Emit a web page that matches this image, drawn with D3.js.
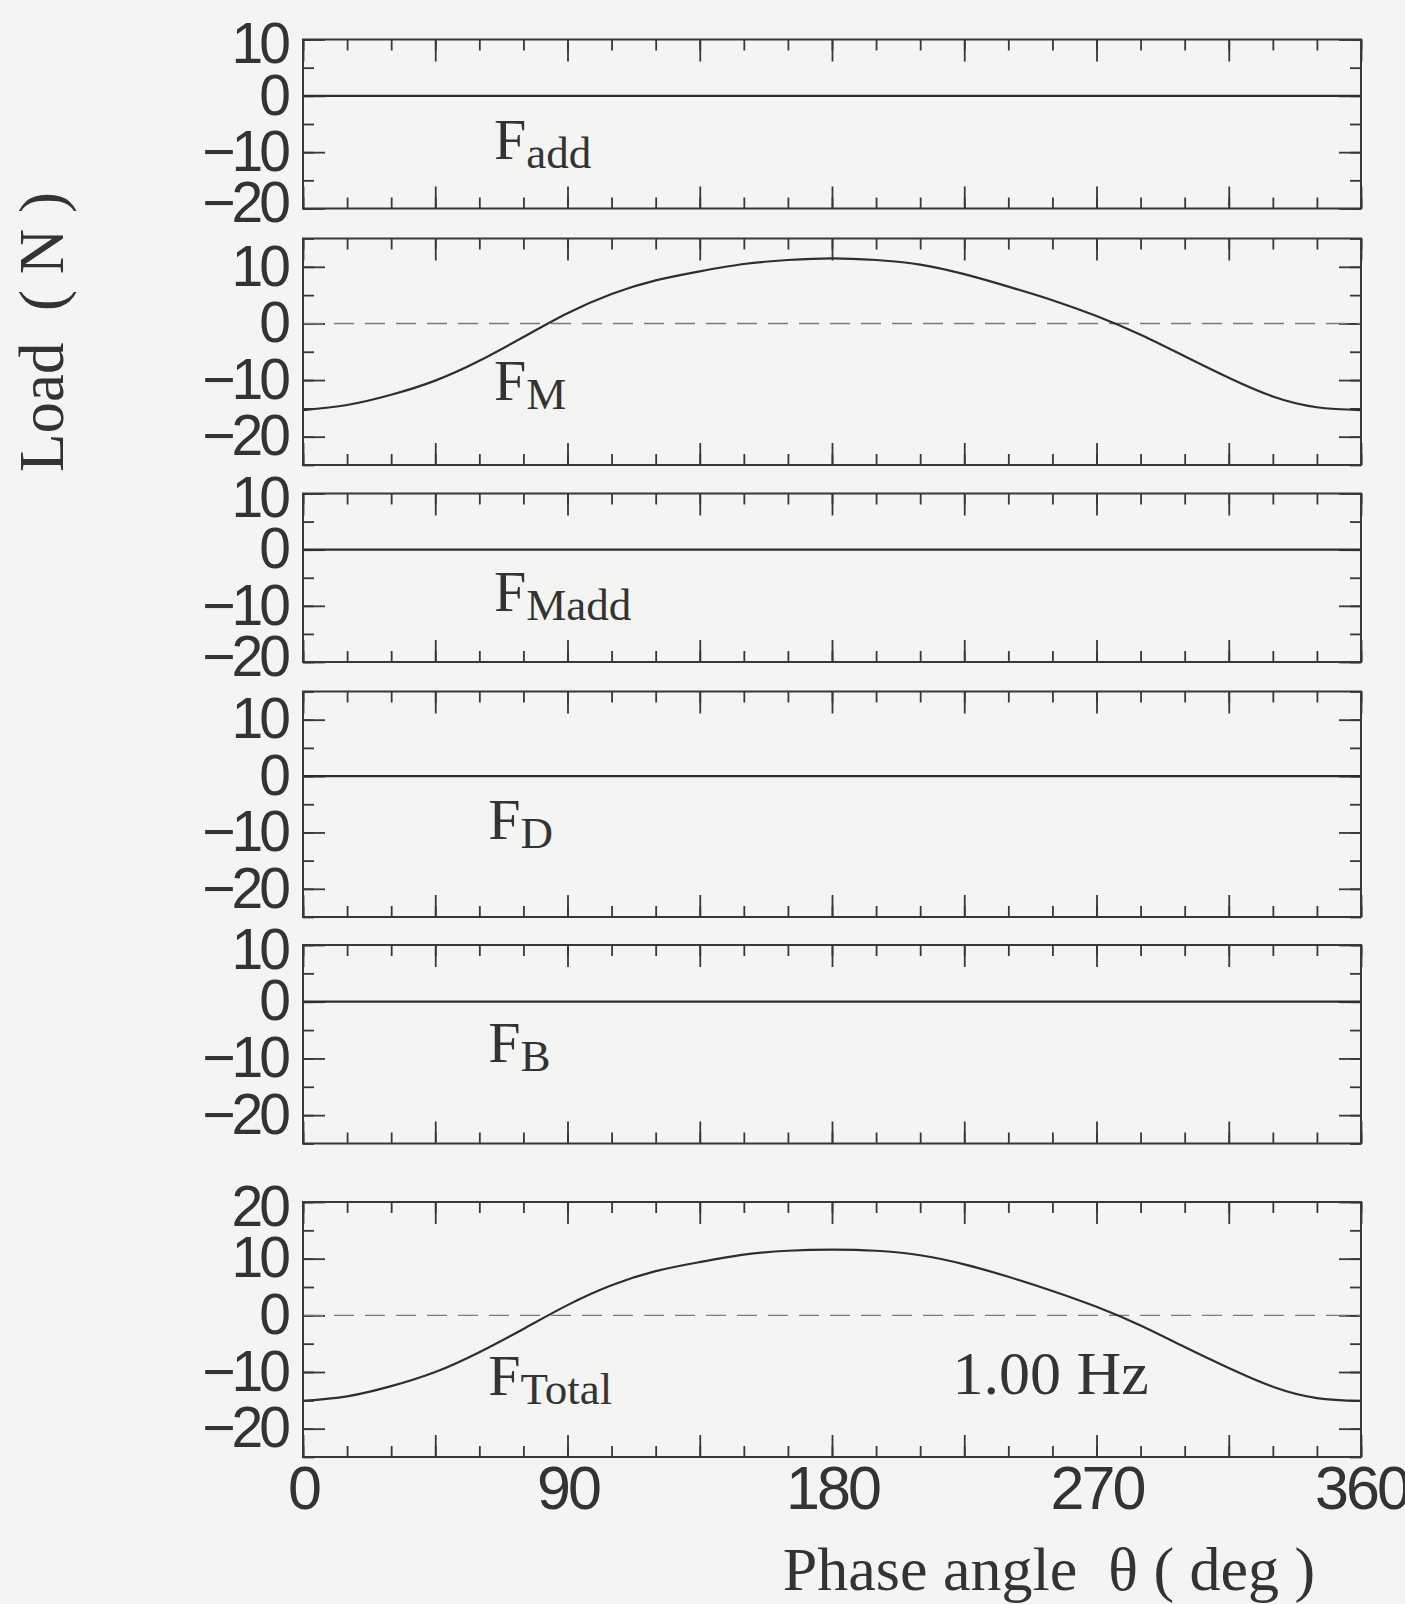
<!DOCTYPE html>
<html>
<head>
<meta charset="utf-8">
<script src="https://cdn.jsdelivr.net/npm/d3@7/dist/d3.min.js"></script>
<style>
  html, body { margin: 0; padding: 0; background: #f4f4f3; }
  svg { display: block; }
</style>
</head>
<body>
<script>
// Phase angle samples (deg)
const phase = [0, 15, 30, 45, 60, 75, 90, 105, 120, 135, 150, 165, 180,
               195, 210, 225, 240, 255, 270, 285, 300, 315, 330, 345, 360];

// Load components (N) over one cycle at 1.00 Hz
const fAdd   = [0, 0, 0, 0, 0, 0, 0, 0, 0, 0, 0, 0, 0, 0, 0, 0, 0, 0, 0, 0, 0, 0, 0, 0, 0];
const fM     = [-15.3, -14.4, -12.6, -10.1, -6.6, -2.4, 1.8, 5.2, 7.6, 9.2, 10.5, 11.2, 11.5,
                11.2, 10.4, 8.7, 6.5, 4.1, 1.3, -2.0, -5.8, -9.6, -12.9, -14.8, -15.3];
const fMadd  = [0, 0, 0, 0, 0, 0, 0, 0, 0, 0, 0, 0, 0, 0, 0, 0, 0, 0, 0, 0, 0, 0, 0, 0, 0];
const fD     = [0, 0, 0, 0, 0, 0, 0, 0, 0, 0, 0, 0, 0, 0, 0, 0, 0, 0, 0, 0, 0, 0, 0, 0, 0];
const fB     = [0, 0, 0, 0, 0, 0, 0, 0, 0, 0, 0, 0, 0, 0, 0, 0, 0, 0, 0, 0, 0, 0, 0, 0, 0];
const fTotal = [-15.1, -14.3, -12.5, -10.0, -6.5, -2.4, 1.8, 5.3, 7.8, 9.4, 10.7, 11.4, 11.6,
                11.4, 10.6, 9.0, 6.8, 4.3, 1.5, -1.8, -5.6, -9.3, -12.6, -14.6, -15.1];

// Panel names (subscripts of F) and their series
const subscripts = ["add", "M", "Madd", "D", "B", "Total"];
const series = [fAdd, fM, fMadd, fD, fB, fTotal];

// Vertical axis ranges and labelled values of each panel (N)
const yRanges = [[-20, 10], [-25, 15], [-20, 10], [-25, 15], [-25, 10], [-25, 20]];
const yTickLabels = [
  [10, 0, -10, -20],
  [10, 0, -10, -20],
  [10, 0, -10, -20],
  [10, 0, -10, -20],
  [10, 0, -10, -20],
  [20, 10, 0, -10, -20]
];

// Horizontal axis
const xTickLabels = [0, 90, 180, 270, 360];
const frequencyText = "1.00 Hz";
const xTitle = "Phase angle  \u03b8 ( deg )";
const yTitle = "Load  ( N )";

// ---- layout ----
const W = 1405, H = 1604;
const plotLeft = 303, plotRight = 1361;
const panelBoxes = [
  [39.5, 208.5], [238.5, 465], [493.5, 662], [691.5, 917], [945, 1143.5], [1202, 1457]
];
// label anchor in data units: [phase, load]
const labelPos = [[65, -11.2], [65, -13.6], [65, -10.9], [63, -11.2], [63, -10.7], [63, -14.1]];
const freqPos = [221, -13.9];

const ink = "#383838";
const sansFont = "'Liberation Sans', Arial, Helvetica, sans-serif";
const serifFont = "'Liberation Serif', 'Times New Roman', serif";

const svg = d3.select("body").append("svg")
  .attr("width", W).attr("height", H)
  .attr("viewBox", `0 0 ${W} ${H}`);

svg.append("rect").attr("width", W).attr("height", H).attr("fill", "#f4f4f3");

const x = d3.scaleLinear().domain([0, 360]).range([plotLeft, plotRight]);
const xMinor = d3.range(0, 361, 15);
const xMajor = d3.range(0, 361, 45);

function styleTicks(g) {
  g.select(".domain").remove();
  g.selectAll(".tick line").attr("stroke", ink).attr("stroke-width", 1.8);
  g.selectAll(".tick text").remove();
}

series.forEach((vals, i) => {
  const [top, bottom] = panelBoxes[i];
  const [lo, hi] = yRanges[i];
  const y = d3.scaleLinear().domain([lo, hi]).range([bottom, top]);
  const g = svg.append("g").attr("class", "panel");

  const yMinor = d3.range(Math.ceil(lo / 5) * 5, hi + 0.01, 5);
  const yMajor = yMinor.filter(v => v % 10 === 0);

  // inward ticks on all four sides
  [[xMinor, 11], [xMajor, 22]].forEach(([tv, len]) => {
    g.append("g").attr("transform", `translate(0,${bottom})`)
      .call(d3.axisBottom(x).tickValues(tv).tickSize(-len).tickFormat(""))
      .call(styleTicks);
    g.append("g").attr("transform", `translate(0,${top})`)
      .call(d3.axisTop(x).tickValues(tv).tickSize(-len).tickFormat(""))
      .call(styleTicks);
  });
  [[yMinor, 11], [yMajor, 22]].forEach(([tv, len]) => {
    g.append("g").attr("transform", `translate(${plotLeft},0)`)
      .call(d3.axisLeft(y).tickValues(tv).tickSize(-len).tickFormat(""))
      .call(styleTicks);
    g.append("g").attr("transform", `translate(${plotRight},0)`)
      .call(d3.axisRight(y).tickValues(tv).tickSize(-len).tickFormat(""))
      .call(styleTicks);
  });

  // tick labels on the left; the ones sitting on the frame edges are pulled inward a little
  const lab = g.append("g").attr("transform", `translate(${plotLeft},0)`)
    .call(d3.axisLeft(y).tickValues(yTickLabels[i]).tickSize(0).tickPadding(16)
      .tickFormat(d => d < 0 ? "\u2212" + Math.abs(d) : String(d)));
  lab.select(".domain").remove();
  lab.selectAll(".tick text")
    .attr("font-family", sansFont).attr("font-size", 57)
    .attr("letter-spacing", "-4px")
    .attr("fill", "#333")
    .attr("y", d => d === hi ? 5 : (d === lo ? -5 : 0));

  const hasSignal = vals.some(v => v !== 0);
  if (hasSignal) {
    g.append("line")
      .attr("x1", plotLeft).attr("x2", plotRight)
      .attr("y1", y(0)).attr("y2", y(0))
      .attr("stroke", "#7a7a7a").attr("stroke-width", 1.4)
      .attr("stroke-dasharray", "20 11");
  }

  // series curve
  const line = d3.line()
    .x((d, k) => x(phase[k]))
    .y(d => y(d))
    .curve(d3.curveNatural);
  g.append("path").datum(vals)
    .attr("d", line)
    .attr("fill", "none")
    .attr("stroke", "#2e2e2e")
    .attr("stroke-width", 2.2);

  // frame
  g.append("rect")
    .attr("x", plotLeft).attr("y", top)
    .attr("width", plotRight - plotLeft).attr("height", bottom - top)
    .attr("fill", "none").attr("stroke", ink).attr("stroke-width", 2);

  // component label F_sub
  const t = g.append("text")
    .attr("x", x(labelPos[i][0])).attr("y", y(labelPos[i][1]))
    .attr("font-family", serifFont).attr("fill", "#333");
  t.append("tspan").attr("font-size", 58).text("F");
  t.append("tspan").attr("font-size", 45).attr("dy", 9).text(subscripts[i]);

  if (i === series.length - 1) {
    g.append("text")
      .attr("x", x(freqPos[0])).attr("y", y(freqPos[1]))
      .attr("font-family", serifFont).attr("font-size", 62).attr("fill", "#333")
      .text(frequencyText);
  }
});

// horizontal axis labels under the last panel
const lastBottom = panelBoxes[panelBoxes.length - 1][1];
const xl = svg.append("g").attr("transform", `translate(0,${lastBottom})`)
  .call(d3.axisBottom(x).tickValues(xTickLabels).tickSize(0).tickPadding(0).tickFormat(d => String(d)));
xl.select(".domain").remove();
xl.selectAll(".tick text")
  .attr("y", 52).attr("dy", 0)
  .attr("font-family", sansFont).attr("font-size", 61)
  .attr("letter-spacing", "-3px")
  .attr("fill", "#333");

svg.append("text")
  .attr("x", 1049).attr("y", 1590)
  .attr("text-anchor", "middle")
  .attr("font-family", serifFont).attr("font-size", 62).attr("fill", "#333")
  .style("white-space", "pre")
  .text(xTitle);

svg.append("text")
  .attr("transform", "translate(63,332) rotate(-90)")
  .attr("text-anchor", "middle")
  .attr("font-family", serifFont).attr("font-size", 63).attr("fill", "#333")
  .style("white-space", "pre")
  .text(yTitle);
</script>
</body>
</html>
